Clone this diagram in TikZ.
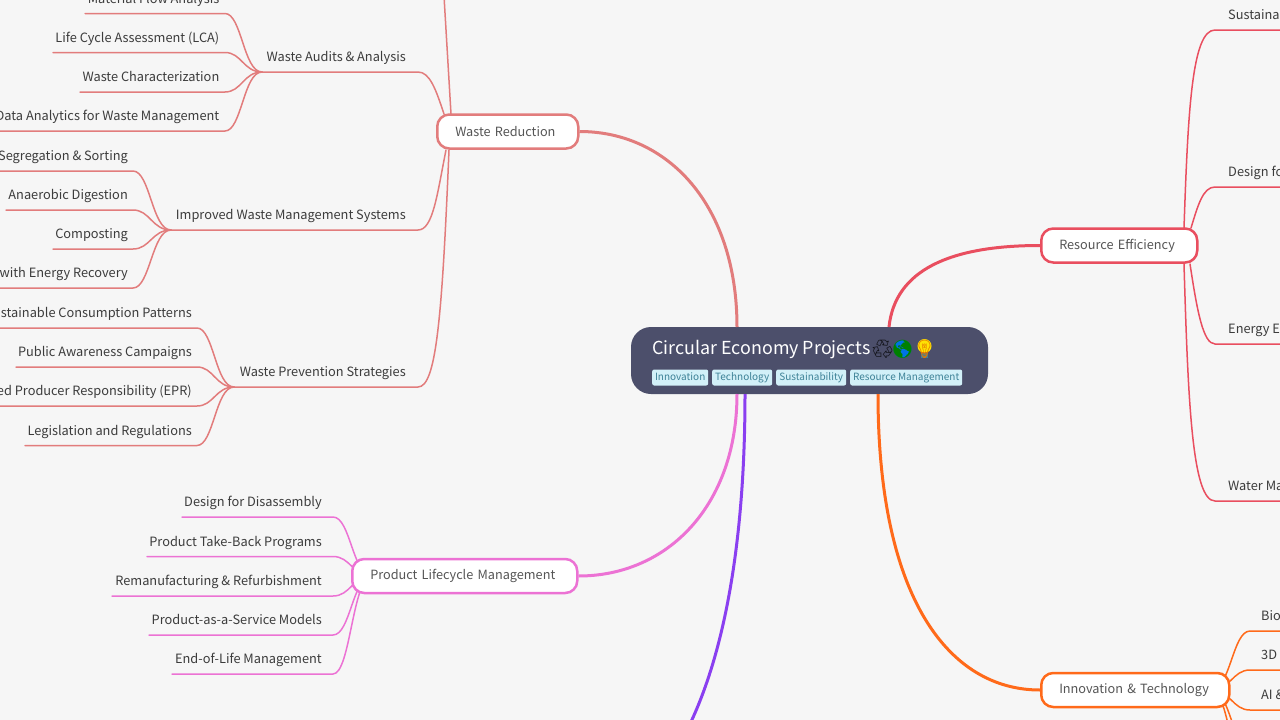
\documentclass[tikz,border=0pt]{standalone}
\usepackage{fontspec}
\setmainfont{Noto Sans CJK SC}
\newfontfamily\emo{Noto Emoji}
\usetikzlibrary{calc}
\definecolor{bgc}{HTML}{F6F6F6}
\definecolor{wrc}{HTML}{E27C7C}
\definecolor{rec}{HTML}{E94E5F}
\definecolor{itc}{HTML}{FF6A1A}
\definecolor{plc}{HTML}{EC72D4}
\definecolor{puc}{HTML}{8A3FF0}
\definecolor{rootc}{HTML}{4C4F6B}
\definecolor{tagc}{HTML}{D2F0F8}
\definecolor{tagt}{HTML}{3E8297}
\definecolor{txt}{HTML}{3C3C3C}
\definecolor{btxt}{HTML}{555555}
\tikzset{
  x=1pt,y=-1pt,
  leaf/.style={inner sep=0pt,text=txt,font=\fontsize{12.8}{16}\selectfont},
  thin line/.style={line width=1.5pt,line cap=round},
  main line/.style={line width=3pt},
  branch/.style={draw=#1,fill=white,line width=2.5pt,rounded corners=12pt,inner xsep=18pt,inner ysep=0pt,
    minimum height=34pt,align=left,text=btxt,font=\fontsize{12.7}{16}\selectfont},
  tag/.style={fill=tagc,rounded corners=2pt,text=tagt,inner ysep=2.5pt,inner xsep=0pt,text height=8.5pt,text depth=2.5pt,font=\fontsize{10}{13}\selectfont},
  emoji/.style={anchor=center,inner sep=0pt,font=\emo\fontsize{18}{20}\selectfont},
}
% #1 name, #2 text, #3 text right x, #4 line y, #5 line left x, #6 bend x
\newcommand{\leafL}[6]{%
  \node[leaf,anchor=base east] (#1) at (#3,#4-10.5) {#2};
  \coordinate (#1s) at (#5,#4);
  \coordinate (#1b) at (#6,#4);}
\newcommand{\leafR}[6]{%
  \node[leaf,anchor=base west] (#1) at (#3,#4-10.5) {#2};
  \coordinate (#1s) at (#5,#4);
  \coordinate (#1b) at (#6,#4);}
% #1 colour, #2 leaf, #3 hub
\newcommand{\fork}[3]{%
  \draw[#1,thin line] (#2s) -- (#2b) .. controls ($(#2b)!.45!(#2b -| #3)$) and ($(#2b |- #3)!.5!(#3)$) .. (#3);}
\begin{document}
\begin{tikzpicture}
\useasboundingbox (0,0) rectangle (1280,720);
\clip (0,0) rectangle (1280,720);
\fill[bgc] (0,0) rectangle (1280,720);

% hubs
\coordinate (hA) at (262,72);
\coordinate (hB) at (171,230);
\coordinate (hC) at (234,387);
\coordinate (hP) at (372,576);
\coordinate (hI) at (1211,690);
\coordinate (aE) at (418,72);
\coordinate (bE) at (418,230);
\coordinate (cE) at (418,387);
\coordinate (topW) at (444,-4);

% Waste audits
\leafL{a1}{Material Flow Analysis}{219.5}{13.5}{85}{225}
\leafL{a2}{Life Cycle Assessment (LCA)}{219.5}{52.5}{53}{225}
\leafL{a3}{Waste Characterization}{219.5}{92}{80}{225}
\leafL{a4}{Data Analytics for Waste Management}{219.5}{131}{-5}{225}
% Improved
\leafL{b1}{Segregation \& Sorting}{128}{171}{-5}{133}
\leafL{b2}{Anaerobic Digestion}{128}{210}{6}{133}
\leafL{b3}{Composting}{128}{249}{53}{133}
\leafL{b4}{with Energy Recovery}{128}{288}{-5}{133}
% Prevention
\leafL{c1}{stainable Consumption Patterns}{192}{328}{-5}{197}
\leafL{c2}{Public Awareness Campaigns}{192}{367}{16}{197}
\leafL{c3}{ed Producer Responsibility (EPR)}{192}{406}{-5}{197}
\leafL{c4}{Legislation and Regulations}{192}{445.5}{25}{197}
% Product
\leafL{p1}{Design for Disassembly}{322}{517}{182}{333}
\leafL{p2}{Product Take-Back Programs}{322}{556.5}{147}{333}
\leafL{p3}{Remanufacturing \& Refurbishment}{322}{596}{112}{333}
\leafL{p4}{Product-as-a-Service Models}{322}{635}{149}{333}
\leafL{p5}{End-of-Life Management}{322}{674}{172}{333}
% Innovation
\leafR{i1}{Bio}{1261}{631}{1285}{1250}
\leafR{i2}{3D}{1261}{670}{1285}{1250}
\leafR{i3}{AI \&}{1261}{710}{1285}{1250}
\coordinate (i4s) at (1285,749); \coordinate (i4b) at (1250,749);
\coordinate (i5s) at (1285,788); \coordinate (i5b) at (1250,788);
% Resource
\leafR{r1}{Sustaina}{1228}{30}{1285}{1215}
\leafR{r2}{Design fo}{1228}{187}{1285}{1215}
\leafR{r3}{Energy E}{1228}{344}{1285}{1215}
\leafR{r4}{Water Ma}{1228}{501}{1285}{1215}

\foreach \l in {a1,a2,a3,a4} {\fork{wrc}{\l}{hA}}
\foreach \l in {b1,b2,b3,b4} {\fork{wrc}{\l}{hB}}
\foreach \l in {c1,c2,c3,c4} {\fork{wrc}{\l}{hC}}
\foreach \l in {p1,p2,p3,p4,p5} {\fork{plc}{\l}{hP}}
\foreach \l in {i1,i2,i3,i4,i5} {\fork{itc}{\l}{hI}}

% sub-branch labels
\node[leaf,anchor=base east] (A) at (406,61.5) {Waste Audits \& Analysis};
\node[leaf,anchor=base east] (B) at (406,219.5) {Improved Waste Management Systems};
\node[leaf,anchor=base east] (C) at (406,376.5) {Waste Prevention Strategies};

% branch nodes
\node[branch=wrc,text width=105pt,anchor=west] (wr) at (436,131.5) {\mbox{Waste Reduction}};
\node[branch=rec,text width=120pt,anchor=west] (re) at (1040,245.5) {\mbox{Resource Efficiency}};
\node[branch=itc,text width=152pt,anchor=west] (it) at (1040,690) {\mbox{Innovation \& Technology}};
\node[branch=plc,text width=189pt,anchor=west] (pl) at (351,576) {\mbox{Product Lifecycle Management}};

% attachment points on the branch borders
\coordinate (wA) at (444,114);
\coordinate (wT) at (451,114);
\coordinate (wB) at (446,150);
\coordinate (wC) at (449,150);
\coordinate (rT1) at (1184,228);
\coordinate (rT2) at (1191,228);
\coordinate (rB1) at (1184,264);
\coordinate (rB2) at (1190,264);

\draw[wrc,thin line] (hA) -- (aE) .. controls (430,72) and (436,90) .. (wA);
\draw[wrc,thin line] (hB) -- (bE) .. controls (433,230) and (437,195) .. (wB);
\draw[wrc,thin line] (hC) -- (cE) .. controls (436,387) and (442,320) .. (wC);
\draw[wrc,thin line] (topW) -- (wT);

\draw[rec,thin line] (r1s) -- (r1b) .. controls (1192,30) and (1188,110) .. (rT1);
\draw[rec,thin line] (r2s) -- (r2b) .. controls (1203,187) and (1198,205) .. (rT2);
\draw[rec,thin line] (r3s) -- (r3b) .. controls (1203,344) and (1197,310) .. (rB2);
\draw[rec,thin line] (r4s) -- (r4b) .. controls (1192,501) and (1188,400) .. (rB1);

% root
\node[fill=rootc,rounded corners=20pt,minimum width=357pt,minimum height=67pt,inner sep=0pt] (root) at (809.5,360.5) {};
\node[anchor=base west,inner sep=0pt,text=white,font=\fontsize{17.9}{22}\selectfont] (title) at (652,354) {Circular Economy Projects};
\fill[blue!50!cyan!90!black] (902.5,349) circle (9pt);
\fill[yellow!85!orange] (924.5,346) circle (7pt);
\fill[tagt] (921,353) rectangle (928,358);
\node[emoji,text=black!75!rootc] (e1) at (882.5,349) {♻};
\node[emoji,text=green!50!black] (e2) at (902.5,349) {🌎};
\node[emoji,text=orange!90!black] (e3) at (924.5,349) {💡};
\node[tag,minimum width=56pt,anchor=west] (t1) at (652,377.5) {Innovation};
\node[tag,minimum width=60pt,anchor=west] (t2) at (712,377.5) {Technology};
\node[tag,minimum width=70pt,anchor=west] (t3) at (776,377.5) {Sustainability};
\node[tag,minimum width=112pt,anchor=west] (t4) at (850,377.5) {Resource Management};

% root connectors
\coordinate (rWR) at (737,327);
\coordinate (rRE) at (889,327);
\coordinate (rIT) at (878,394);
\coordinate (rPL) at (737,394);
\coordinate (rPU) at (745,394);
\coordinate (pEnd) at (690,724);
\draw[wrc,main line] (wr.east) .. controls (668,131.5) and (737,205) .. (rWR);
\draw[rec,main line] (re.west) .. controls (950,245.5) and (895,270) .. (rRE);
\draw[itc,main line] (it.west) .. controls (950,690) and (878,600) .. (rIT);
\draw[plc,main line] (pl.east) .. controls (668,576) and (737,505) .. (rPL);
\draw[puc,main line] (rPU) .. controls (745,540) and (725,650) .. (pEnd);
\end{tikzpicture}
\end{document}
